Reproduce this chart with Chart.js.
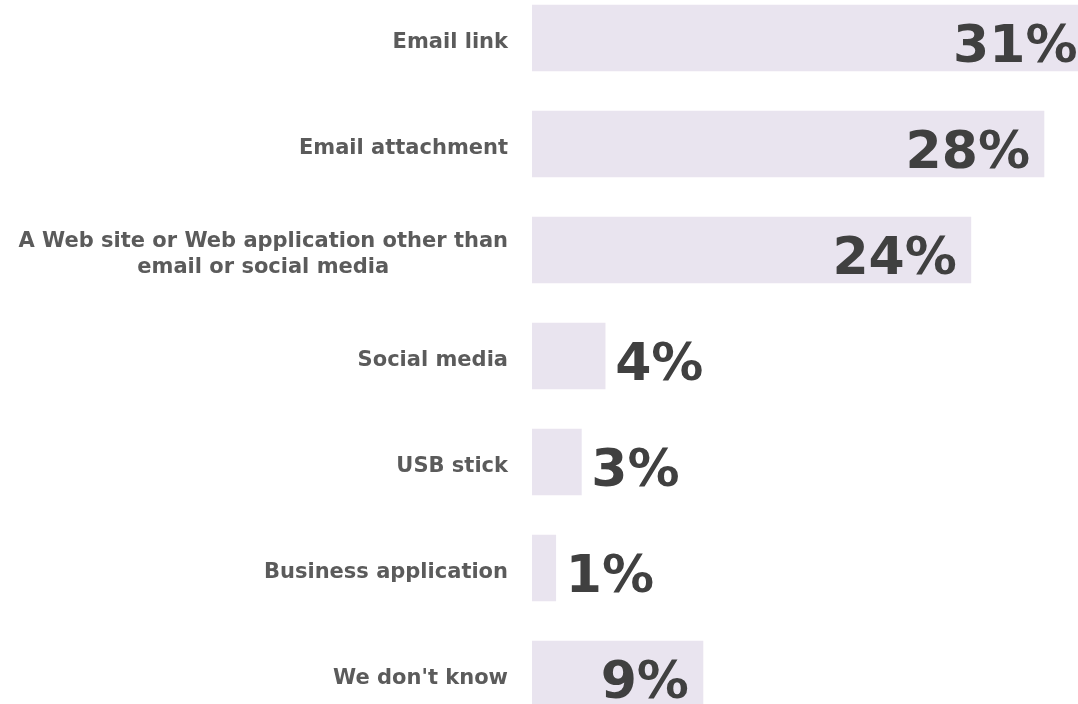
<!DOCTYPE html>
<html>
<head>
<meta charset="utf-8">
<script src="https://cdn.jsdelivr.net/npm/chart.js@4/dist/chart.umd.min.js"></script>
<style>
  html, body { margin: 0; padding: 0; background: #ffffff; overflow: hidden; }
  body { width: 1078px; height: 704px; position: relative; }
  #c { position: absolute; left: 0; top: -15px; }
</style>
</head>
<body>
<canvas id="c" width="1078" height="742"></canvas>
<script>
const categories = [
  ["Email link"],
  ["Email attachment"],
  ["A Web site or Web application other than", "email or social media"],
  ["Social media"],
  ["USB stick"],
  ["Business application"],
  ["We don't know"]
];
const values = [30.6, 28, 24, 4, 2.7, 1.3, 9.35];
const valueLabels = ["31%", "28%", "24%", "4%", "3%", "1%", "9%"];
const axisMax = 29.86;

const labelFont = 'bold 21px "DejaVu Sans", Verdana, sans-serif';
const valueFont = 'bold 52px "DejaVu Sans", Verdana, sans-serif';

const labelPlugin = {
  id: 'labelPlugin',
  afterDatasetsDraw(chart) {
    const ctx = chart.ctx;
    const meta = chart.getDatasetMeta(0);
    const yScale = chart.scales.y;
    const labelRight = chart.chartArea.left - 24;
    ctx.save();
    // category labels
    ctx.font = labelFont;
    ctx.fillStyle = '#5b5b5b';
    ctx.textBaseline = 'alphabetic';
    categories.forEach((lines, i) => {
      const cy = yScale.getPixelForValue(i);
      const lh = 26;
      const widths = lines.map(l => ctx.measureText(l).width);
      const maxW = Math.max(...widths);
      const firstBase = cy + 10 - (lines.length - 1) * lh / 2;
      lines.forEach((l, j) => {
        if (lines.length === 1) {
          ctx.textAlign = 'right';
          ctx.fillText(l, labelRight, firstBase);
        } else {
          ctx.textAlign = 'center';
          ctx.fillText(l, labelRight - maxW / 2, firstBase + j * lh);
        }
      });
    });
    // value labels
    ctx.font = valueFont;
    ctx.fillStyle = '#404040';
    meta.data.forEach((bar, i) => {
      const end = bar.x;
      const by = bar.y + 24;
      if (values[i] >= 9) {
        ctx.textAlign = 'right';
        ctx.fillText(valueLabels[i], end - 14, by);
      } else {
        ctx.textAlign = 'left';
        ctx.fillText(valueLabels[i], end + 10, by);
      }
    });
    ctx.restore();
  }
};

new Chart(document.getElementById('c'), {
  type: 'bar',
  data: {
    labels: categories,
    datasets: [{
      data: values,
      backgroundColor: '#e9e4ef',
      borderWidth: 0,
      barThickness: 66
    }]
  },
  options: {
    indexAxis: 'y',
    responsive: false,
    animation: false,
    layout: { padding: { left: 532, right: 0, top: 0, bottom: 0 } },
    plugins: { legend: { display: false }, tooltip: { enabled: false } },
    scales: {
      x: { display: false, min: 0, max: axisMax },
      y: { display: false }
    }
  },
  plugins: [labelPlugin]
});
</script>
</body>
</html>
